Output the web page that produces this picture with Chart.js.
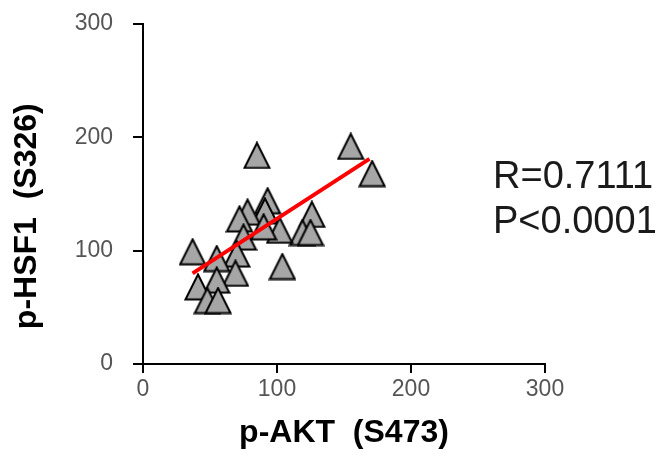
<!DOCTYPE html>
<html>
<head>
<meta charset="utf-8">
<script src="https://cdn.jsdelivr.net/npm/chart.js@4/dist/chart.umd.min.js"></script>
<style>
  html, body { margin: 0; padding: 0; background: #ffffff; }
  #wrap { position: relative; width: 665px; height: 457px; }
</style>
</head>
<body>
<div id="wrap"><canvas id="corrChart" width="665" height="457"></canvas></div>
<script>
// p-AKT (S473) vs p-HSF1 (S326)
const aktValues  = [85, 155, 171, 37, 104, 126, 119, 125, 93, 91, 102, 78, 72, 75, 90, 70, 69, 55, 55, 41, 48, 56];
const hsf1Values = [184, 192, 168, 99, 86, 132, 116, 116, 144, 135, 118, 134, 128, 112, 121, 97, 80, 93, 74, 68, 56, 56];

// regression line end points
const fitX = [37, 169];
const fitY = [80, 181];

const axisTicks = [0, 100, 200, 300];
const statLines = ['R=0.7111', 'P<0.0001'];

// grey triangle marker like the excel one
function makeTriangle() {
    const c = document.createElement('canvas');
    c.width = 28;
    c.height = 28;
    const g = c.getContext('2d');
    g.beginPath();
    g.moveTo(14, 1.5);
    g.lineTo(26.5, 26.5);
    g.lineTo(1.5, 26.5);
    g.closePath();
    g.fillStyle = '#a6a6a6';
    g.fill();
    g.lineWidth = 2;
    g.strokeStyle = '#000000';
    g.stroke();
    return c;
}

const tri = makeTriangle();

const points = aktValues.map((v, i) => ({ x: v, y: hsf1Values[i] }));
const fitPoints = fitX.map((v, i) => ({ x: v, y: fitY[i] }));

// stat text at the right side
const statText = {
    id: 'statText',
    afterDraw(chart) {
        const ctx = chart.ctx;
        ctx.save();
        ctx.font = '38px "Liberation Sans", Arial, sans-serif';
        ctx.fillStyle = '#1a1a1a';
        ctx.textAlign = 'left';
        ctx.textBaseline = 'alphabetic';
        ctx.fillText(statLines[0], 493, 188);
        ctx.fillText(statLines[1], 493, 233);
        ctx.restore();
    }
};

const tickFont = { family: '"Liberation Sans", Arial, sans-serif', size: 23 };
const titleFont = { family: '"Liberation Sans", Arial, sans-serif', size: 32, weight: 'bold' };

new Chart(document.getElementById('corrChart'), {
    type: 'scatter',
    data: {
        datasets: [
            {
                type: 'line',
                label: 'fit',
                data: fitPoints,
                borderColor: '#ff0000',
                borderWidth: 4,
                pointRadius: 0,
                fill: false
            },
            {
                label: 'samples',
                data: points,
                pointStyle: tri,
                pointRadius: 14,
                pointHoverRadius: 14
            }
        ]
    },
    options: {
        responsive: false,
        animation: false,
        events: [],
        layout: { padding: { left: 0, right: 120, top: 24, bottom: 0 } },
        plugins: {
            legend: { display: false },
            tooltip: { enabled: false }
        },
        scales: {
            x: {
                type: 'linear',
                min: 0,
                max: 300,
                afterBuildTicks: (s) => { s.ticks = axisTicks.map(v => ({ value: v })); },
                afterFit: (s) => { s.height = 93; s.paddingLeft = 0; s.paddingRight = 0; },
                grid: { drawOnChartArea: false, drawTicks: true, tickLength: 9, color: '#000000', lineWidth: 2 },
                border: { color: '#000000', width: 2 },
                ticks: { color: '#555555', font: tickFont, padding: 3, maxRotation: 0 },
                title: { display: true, text: 'p-AKT  (S473)', color: '#000000', font: titleFont, padding: { top: 0, bottom: 5 } }
            },
            y: {
                type: 'linear',
                min: 0,
                max: 300,
                afterBuildTicks: (s) => { s.ticks = axisTicks.map(v => ({ value: v })); },
                afterFit: (s) => { s.width = 143; s.paddingTop = 0; s.paddingBottom = 0; },
                grid: { drawOnChartArea: false, drawTicks: true, tickLength: 10, color: '#000000', lineWidth: 2 },
                border: { color: '#000000', width: 2 },
                ticks: { color: '#555555', font: tickFont, padding: 20 },
                title: { display: true, text: 'p-HSF1  (S326)     ', color: '#000000', font: titleFont, padding: { top: 8, bottom: 0 } }
            }
        }
    },
    plugins: [statText]
});
</script>
</body>
</html>
